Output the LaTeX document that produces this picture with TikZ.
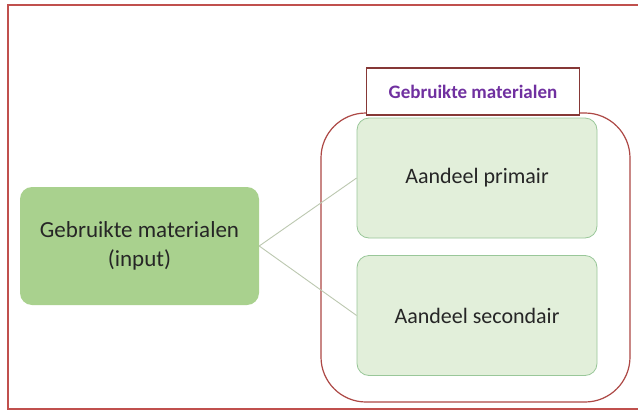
\documentclass[tikz,border=0pt]{standalone}
\usepackage{fontspec}
\setmainfont{Carlito}
\begin{document}
\begin{tikzpicture}[x=1pt,y=-1pt,
  lightbox/.style={draw=green!45!black!40!white, line width=0.8pt, fill=lgreen, rounded corners=12pt, minimum width=240pt, minimum height=120pt, inner sep=0pt, text=black!85, font=\fontsize{22}{26}\selectfont},
  link/.style={draw=linkc, line width=0.9pt}]
\definecolor{lgreen}{HTML}{E2EFDA}
\definecolor{mgreen}{HTML}{A9D18E}
\definecolor{linkc}{HTML}{BCC8B0}
\definecolor{framered}{HTML}{C0504D}
\definecolor{purp}{HTML}{7030A0}
\useasboundingbox (0,0) rectangle (638,410);
\fill[white] (0,0) rectangle (638,410);
% outer frame
\draw[framered, line width=1.2pt] (640,5) -- (8,5) -- (8,409) -- (640,409);
% group outline
\draw[draw=framered!90!black, line width=1.2pt, rounded corners=45pt] (321,113) rectangle (630,402);
% nodes
\node[fill=mgreen, rounded corners=12pt, minimum width=239pt, minimum height=118pt, inner sep=0pt, align=center, text=black!85, font=\fontsize{23}{29}\selectfont] (inp) at (139.5,246) {Gebruikte materialen\\(input)};
\node[lightbox] (prim) at (477,178) {Aandeel primair};
\node[lightbox] (sec) at (477,315.5) {Aandeel secondair};
\node[draw=framered!70!black, line width=1.2pt, fill=white, minimum width=213pt, minimum height=47pt, inner sep=0pt, text=purp, font=\bfseries\fontsize{19}{22}\selectfont] (lab) at (473,91.5) {Gebruikte materialen};
% links
\draw[link] (inp.east) -- (prim.west);
\draw[link] (inp.east) -- (sec.west);
\end{tikzpicture}
\end{document}
